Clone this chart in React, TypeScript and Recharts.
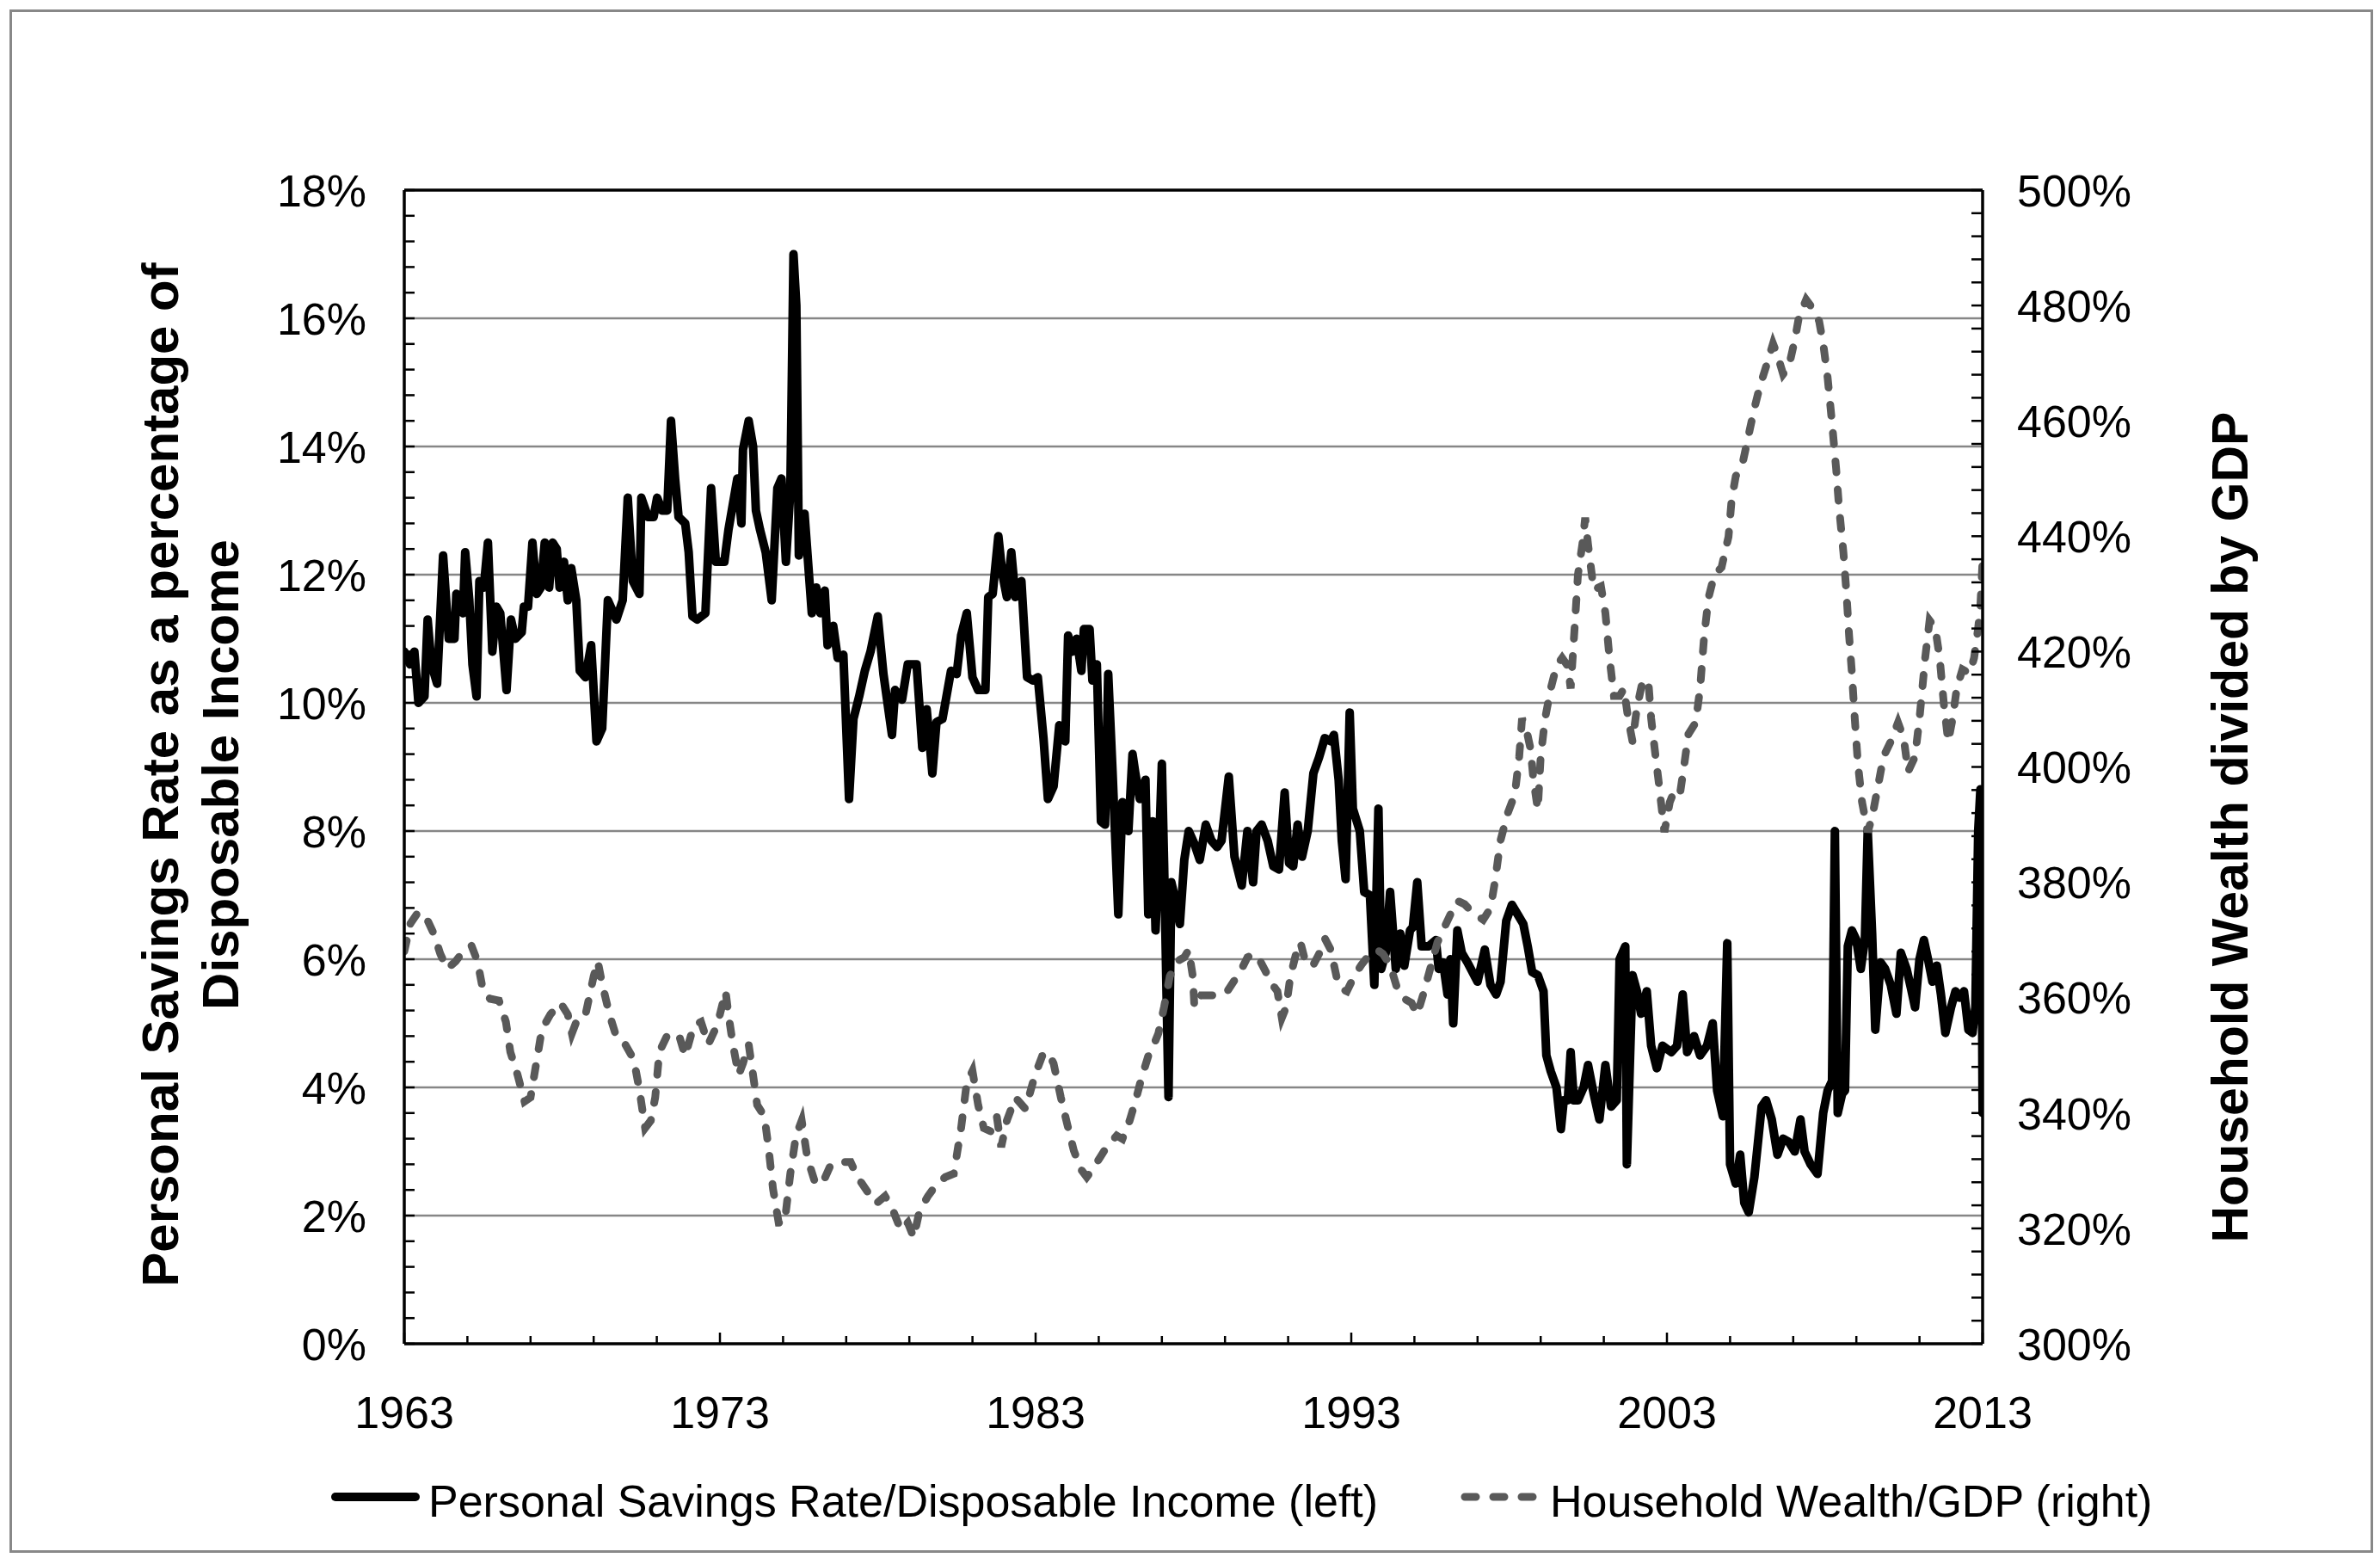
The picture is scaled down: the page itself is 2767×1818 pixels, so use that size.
import React from 'react';
import {
  LineChart,
  Line,
  XAxis,
  YAxis,
  CartesianGrid,
  ReferenceLine,
  Legend,
} from 'recharts';

// [year, personal savings rate as % of disposable income] (monthly)
const savingsRate: [number, number][] = [
  [1963.0, 10.8], [1963.18, 10.6], [1963.32, 10.8], [1963.45, 10.0], [1963.64, 10.1], [1963.74, 11.3],
  [1963.86, 10.6], [1964.04, 10.3], [1964.23, 12.3], [1964.41, 11.0], [1964.59, 11.0], [1964.65, 11.7],
  [1964.86, 11.4], [1964.93, 12.35], [1965.06, 11.6], [1965.16, 10.6], [1965.29, 10.1], [1965.38, 11.9],
  [1965.52, 11.8], [1965.65, 12.5], [1965.79, 10.8], [1965.92, 11.5], [1966.04, 11.4], [1966.24, 10.2],
  [1966.38, 11.3], [1966.52, 11.0], [1966.72, 11.1], [1966.79, 11.5], [1966.92, 11.5], [1967.06, 12.5],
  [1967.2, 11.7], [1967.33, 11.8], [1967.45, 12.5], [1967.59, 11.8], [1967.7, 12.5], [1967.83, 12.4],
  [1967.92, 11.8], [1968.06, 12.2], [1968.18, 11.6], [1968.29, 12.1], [1968.45, 11.6], [1968.56, 10.5],
  [1968.74, 10.4], [1968.92, 10.9], [1969.09, 9.4], [1969.27, 9.6], [1969.45, 11.6], [1969.72, 11.3],
  [1969.92, 11.6], [1970.08, 13.2], [1970.24, 11.9], [1970.45, 11.7], [1970.51, 13.2], [1970.72, 12.9],
  [1970.9, 12.9], [1971.01, 13.2], [1971.17, 13.0], [1971.33, 13.0], [1971.45, 14.4], [1971.58, 13.5],
  [1971.69, 12.9], [1971.9, 12.8], [1972.01, 12.35], [1972.13, 11.35], [1972.28, 11.3], [1972.54, 11.4],
  [1972.72, 13.35], [1972.87, 12.2], [1973.14, 12.2], [1973.27, 12.7], [1973.41, 13.1], [1973.55, 13.5],
  [1973.68, 12.8], [1973.73, 13.95], [1973.91, 14.4], [1974.05, 14.0], [1974.14, 13.0], [1974.27, 12.7],
  [1974.45, 12.35], [1974.64, 11.6], [1974.82, 13.35], [1974.95, 13.5], [1975.09, 12.2], [1975.23, 13.3],
  [1975.33, 17.0], [1975.42, 16.2], [1975.5, 12.3], [1975.68, 12.95], [1975.91, 11.4], [1976.05, 11.8],
  [1976.18, 11.4], [1976.32, 11.75], [1976.41, 10.9], [1976.59, 11.2], [1976.73, 10.7], [1976.91, 10.75],
  [1977.09, 8.5], [1977.23, 9.75], [1977.41, 10.1], [1977.59, 10.5], [1977.77, 10.8], [1978.0, 11.35],
  [1978.18, 10.45], [1978.45, 9.5], [1978.55, 10.2], [1978.77, 10.05], [1978.95, 10.6], [1979.23, 10.6],
  [1979.41, 9.3], [1979.55, 9.9], [1979.73, 8.9], [1979.86, 9.7], [1980.05, 9.75], [1980.32, 10.5],
  [1980.5, 10.45], [1980.64, 11.05], [1980.82, 11.4], [1981.0, 10.4], [1981.18, 10.2], [1981.41, 10.2],
  [1981.5, 11.65], [1981.64, 11.7], [1981.82, 12.6], [1981.95, 12.0], [1982.09, 11.65], [1982.23, 12.35],
  [1982.36, 11.65], [1982.55, 11.9], [1982.73, 10.4], [1982.91, 10.35], [1983.07, 10.4], [1983.25, 9.45],
  [1983.39, 8.5], [1983.57, 8.7], [1983.75, 9.65], [1983.94, 9.4], [1984.03, 11.05], [1984.16, 10.8],
  [1984.3, 11.0], [1984.45, 10.5], [1984.53, 11.15], [1984.71, 11.15], [1984.8, 10.35], [1984.94, 10.6],
  [1985.07, 8.15], [1985.2, 8.1], [1985.3, 10.45], [1985.44, 8.9], [1985.62, 6.7], [1985.75, 8.45],
  [1985.94, 8.0], [1986.07, 9.2], [1986.16, 8.9], [1986.3, 8.5], [1986.48, 8.8], [1986.57, 6.7],
  [1986.71, 8.15], [1986.8, 6.45], [1986.94, 8.15], [1987.0, 9.05], [1987.07, 7.5], [1987.21, 3.85],
  [1987.3, 7.2], [1987.44, 6.9], [1987.57, 6.55], [1987.71, 7.55], [1987.85, 8.0], [1988.03, 7.8],
  [1988.2, 7.55], [1988.39, 8.1], [1988.57, 7.85], [1988.75, 7.75], [1988.89, 7.85], [1989.12, 8.85],
  [1989.3, 7.6], [1989.53, 7.15], [1989.71, 8.0], [1989.89, 7.2], [1990.0, 8.0], [1990.16, 8.1],
  [1990.35, 7.85], [1990.53, 7.45], [1990.71, 7.4], [1990.89, 8.6], [1991.03, 7.5], [1991.16, 7.45],
  [1991.3, 8.1], [1991.44, 7.6], [1991.62, 8.0], [1991.8, 8.9], [1991.98, 9.15], [1992.16, 9.45],
  [1992.35, 9.4], [1992.45, 9.5], [1992.6, 8.8], [1992.7, 7.85], [1992.82, 7.25], [1992.95, 9.85],
  [1993.05, 8.35], [1993.27, 8.0], [1993.41, 7.05], [1993.59, 7.0], [1993.73, 5.6], [1993.86, 8.35],
  [1993.95, 5.85], [1994.09, 6.1], [1994.23, 7.05], [1994.41, 5.85], [1994.55, 6.4], [1994.68, 5.9],
  [1994.86, 6.45], [1994.95, 6.5], [1995.09, 7.2], [1995.23, 6.2], [1995.45, 6.2], [1995.68, 6.3],
  [1995.77, 5.85], [1995.91, 5.95], [1996.05, 5.45], [1996.14, 6.0], [1996.23, 5.0], [1996.36, 6.45],
  [1996.5, 6.1], [1996.68, 5.95], [1997.0, 5.65], [1997.23, 6.15], [1997.41, 5.6], [1997.59, 5.45],
  [1997.73, 5.65], [1997.91, 6.6], [1998.09, 6.85], [1998.27, 6.7], [1998.45, 6.55], [1998.59, 6.2],
  [1998.73, 5.8], [1998.91, 5.75], [1999.09, 5.5], [1999.18, 4.5], [1999.32, 4.25], [1999.5, 4.0],
  [1999.64, 3.35], [1999.73, 3.8], [1999.86, 3.8], [1999.95, 4.55], [2000.05, 3.8], [2000.18, 3.8],
  [2000.36, 4.0], [2000.5, 4.35], [2000.68, 3.9], [2000.86, 3.5], [2001.05, 4.35], [2001.23, 3.7],
  [2001.41, 3.8], [2001.5, 6.0], [2001.68, 6.2], [2001.73, 2.8], [2001.91, 5.75], [2002.05, 5.5],
  [2002.18, 5.15], [2002.36, 5.5], [2002.5, 4.65], [2002.68, 4.3], [2002.86, 4.65], [2003.14, 4.55],
  [2003.32, 4.65], [2003.5, 5.45], [2003.64, 4.55], [2003.86, 4.8], [2004.05, 4.5], [2004.27, 4.65],
  [2004.45, 5.0], [2004.59, 3.95], [2004.77, 3.55], [2004.91, 6.25], [2005.0, 2.8], [2005.18, 2.5],
  [2005.32, 2.95], [2005.45, 2.2], [2005.59, 2.05], [2005.77, 2.6], [2006.0, 3.7], [2006.14, 3.8],
  [2006.32, 3.5], [2006.5, 2.95], [2006.68, 3.2], [2006.86, 3.15], [2007.05, 3.0], [2007.23, 3.5],
  [2007.36, 3.0], [2007.55, 2.8], [2007.77, 2.65], [2007.95, 3.6], [2008.09, 3.95], [2008.23, 4.1],
  [2008.32, 8.0], [2008.41, 3.6], [2008.55, 3.9], [2008.64, 3.95], [2008.73, 6.2], [2008.86, 6.45],
  [2009.0, 6.3], [2009.14, 5.85], [2009.27, 6.3], [2009.36, 8.0], [2009.5, 6.4], [2009.6, 4.9],
  [2009.77, 5.95], [2009.91, 5.85], [2010.09, 5.6], [2010.27, 5.15], [2010.41, 6.1], [2010.59, 5.85],
  [2010.73, 5.55], [2010.86, 5.25], [2011.0, 6.0], [2011.14, 6.3], [2011.27, 6.0], [2011.41, 5.65],
  [2011.55, 5.9], [2011.68, 5.45], [2011.82, 4.85], [2012.0, 5.25], [2012.14, 5.5], [2012.27, 5.4],
  [2012.41, 5.5], [2012.55, 4.9], [2012.68, 4.85], [2012.77, 5.25], [2012.86, 8.0], [2012.93, 8.65],
  [2012.97, 6.7], [2013.0, 3.6],
];

// [year, household wealth as % of GDP] (quarterly)
const wealthToGdp: [number, number][] = [
  [1963.0, 368], [1963.2, 372.9], [1963.45, 374.9], [1963.73, 373.5], [1963.95, 370.9], [1964.14, 367.6],
  [1964.36, 365.0], [1964.63, 366.3], [1964.9, 368.3], [1965.13, 369.0], [1965.32, 366.3], [1965.5, 361.1],
  [1965.72, 359.8], [1966.0, 359.5], [1966.22, 355.8], [1966.36, 350.6], [1966.59, 346.6], [1966.81, 342.0],
  [1967.0, 342.7], [1967.18, 348.6], [1967.36, 354.5], [1967.63, 357.1], [1967.95, 359.1], [1968.18, 357.1],
  [1968.31, 353.8], [1968.45, 355.8], [1968.72, 356.5], [1969.0, 363.7], [1969.13, 366.3], [1969.27, 362.4],
  [1969.5, 357.1], [1969.72, 353.2], [1970.0, 351.9], [1970.27, 349.3], [1970.45, 344.0], [1970.63, 337.4],
  [1970.81, 338.7], [1970.95, 342.7], [1971.08, 350.6], [1971.36, 353.8], [1971.72, 353.2], [1971.9, 349.9],
  [1972.17, 355.2], [1972.4, 355.8], [1972.63, 351.9], [1972.85, 354.5], [1973.0, 357.1], [1973.18, 361.1],
  [1973.27, 357.1], [1973.41, 351.9], [1973.59, 346.6], [1973.73, 348.6], [1973.91, 351.9], [1974.05, 346.6],
  [1974.18, 341.4], [1974.41, 339.4], [1974.55, 333.5], [1974.68, 326.9], [1974.86, 321.0], [1975.05, 321.0],
  [1975.23, 329.5], [1975.41, 336.1], [1975.59, 338.7], [1975.77, 332.2], [1976.0, 328.2], [1976.23, 327.6],
  [1976.5, 330.9], [1976.73, 331.5], [1977.14, 331.5], [1977.36, 328.9], [1977.68, 326.3], [1977.95, 324.3],
  [1978.23, 325.6], [1978.45, 323.6], [1978.73, 319.7], [1978.95, 321.0], [1979.14, 318.4], [1979.32, 323.0],
  [1979.59, 325.6], [1979.86, 327.6], [1980.14, 328.9], [1980.41, 329.5], [1980.64, 337.4], [1980.82, 345.3],
  [1981.0, 347.3], [1981.18, 341.4], [1981.36, 337.4], [1981.59, 336.8], [1981.77, 339.4], [1981.91, 334.1],
  [1982.09, 338.7], [1982.36, 342.7], [1982.68, 340.7], [1982.98, 346.6], [1983.21, 349.9], [1983.39, 350.6],
  [1983.57, 348.6], [1983.8, 342.7], [1984.0, 338.1], [1984.21, 333.5], [1984.44, 330.2], [1984.62, 328.9],
  [1984.8, 330.2], [1985.03, 332.2], [1985.25, 334.1], [1985.57, 336.1], [1985.75, 335.5], [1985.98, 338.7],
  [1986.16, 342.0], [1986.35, 346.0], [1986.57, 349.9], [1986.75, 351.9], [1986.89, 353.8], [1987.07, 358.4],
  [1987.25, 363.7], [1987.48, 366.3], [1987.71, 367.0], [1987.85, 368.3], [1987.98, 363.7], [1988.03, 358.4],
  [1988.25, 360.4], [1988.53, 360.4], [1988.8, 360.4], [1989.07, 361.1], [1989.3, 363.0], [1989.53, 365.0],
  [1989.71, 367.0], [1989.94, 367.6], [1990.12, 366.3], [1990.3, 364.4], [1990.48, 362.4], [1990.66, 361.1],
  [1990.8, 356.5], [1990.94, 358.4], [1991.07, 363.7], [1991.25, 367.6], [1991.39, 369.6], [1991.57, 365.7],
  [1991.8, 365.7], [1991.98, 367.6], [1992.16, 370.3], [1992.35, 368.3], [1992.53, 363.7], [1992.71, 361.5],
  [1992.86, 361.1], [1993.09, 363.7], [1993.32, 365.7], [1993.59, 367.6], [1993.82, 368.3], [1994.0, 367.6],
  [1994.23, 365.7], [1994.45, 361.7], [1994.68, 359.8], [1994.91, 359.1], [1995.09, 357.1], [1995.27, 360.4],
  [1995.5, 365.0], [1995.73, 369.6], [1995.95, 372.2], [1996.18, 374.9], [1996.36, 376.8], [1996.59, 376.2],
  [1996.82, 374.9], [1997.0, 374.2], [1997.18, 373.5], [1997.41, 375.5], [1997.55, 380.1], [1997.73, 387.3],
  [1997.95, 391.9], [1998.18, 395.2], [1998.32, 401.8], [1998.41, 408.4], [1998.55, 406.4], [1998.68, 403.1],
  [1998.77, 397.8], [1998.91, 392.6], [1999.0, 401.8], [1999.14, 408.4], [1999.32, 413.6], [1999.5, 417.5],
  [1999.68, 418.9], [1999.86, 417.5], [1999.95, 413.6], [2000.09, 425.4], [2000.18, 433.3], [2000.32, 438.6],
  [2000.41, 443.2], [2000.5, 438.6], [2000.68, 430.7], [2000.91, 431.3], [2001.05, 426.7], [2001.18, 418.9],
  [2001.32, 412.3], [2001.5, 412.3], [2001.64, 413.6], [2001.77, 408.4], [2001.91, 404.4], [2002.05, 410.3],
  [2002.23, 414.9], [2002.41, 414.9], [2002.5, 408.4], [2002.64, 401.8], [2002.73, 397.8], [2002.92, 388.7],
  [2003.09, 393.9], [2003.23, 395.8], [2003.41, 395.2], [2003.55, 400.5], [2003.68, 405.7], [2003.91, 407.7],
  [2004.05, 413.6], [2004.18, 422.8], [2004.32, 429.4], [2004.5, 433.3], [2004.73, 434.6], [2004.95, 439.9],
  [2005.05, 446.4], [2005.18, 450.4], [2005.41, 453.0], [2005.59, 457.6], [2005.77, 462.2], [2005.95, 466.1],
  [2006.14, 469.4], [2006.36, 473.4], [2006.5, 471.4], [2006.68, 468.1], [2006.86, 469.4], [2007.05, 474.0],
  [2007.18, 478.0], [2007.41, 481.0], [2007.64, 479.3], [2007.82, 477.3], [2007.95, 473.4], [2008.09, 467.5],
  [2008.23, 459.6], [2008.36, 451.7], [2008.45, 445.1], [2008.59, 437.2], [2008.68, 430.7], [2008.77, 422.8],
  [2008.86, 416.2], [2008.95, 408.4], [2009.05, 400.5], [2009.18, 393.9], [2009.36, 388.7], [2009.5, 391.3],
  [2009.68, 396.5], [2009.86, 401.8], [2010.09, 404.4], [2010.32, 407.7], [2010.5, 405.0], [2010.64, 399.2],
  [2010.86, 401.8], [2011.0, 408.4], [2011.09, 413.6], [2011.18, 418.9], [2011.32, 425.4], [2011.5, 424.1],
  [2011.64, 418.9], [2011.77, 411.0], [2011.91, 404.4], [2012.05, 408.4], [2012.18, 413.6], [2012.36, 416.9],
  [2012.59, 416.2], [2012.73, 418.9], [2012.86, 424.1], [2012.93, 428.0], [2013.0, 436.0],
];

const yearTicks = [
  1963, 1965, 1967, 1969, 1971, 1973, 1975, 1977, 1979, 1981, 1983, 1985, 1987,
  1989, 1991, 1993, 1995, 1997, 1999, 2001, 2003, 2005, 2007, 2009, 2011, 2013,
];
const yearLabels = [1963, 1973, 1983, 1993, 2003, 2013];
const gridValues = [2, 4, 6, 8, 10, 12, 14, 16];
// minor tick marks: 0.4 pt steps on the left, 4 pt steps on the right
const leftTicks = Array.from({ length: 46 }, (_, i) => Math.round(i * 4) / 10);
const rightTicks = Array.from({ length: 51 }, (_, i) => 300 + i * 4);

const FONT = '"Liberation Sans", Arial, Helvetica, sans-serif';
const W = 2751;
const H = 1800;
const DASH = '13 20';
const WEALTH_GREY = '#595959';

const savingsData = savingsRate.map(([year, v]) => ({ year, v }));
const wealthData = wealthToGdp.map(([year, v]) => ({ year, v }));

const isStep = (v: number, step: number) => Math.abs(v / step - Math.round(v / step)) < 1e-6;

function LeftTick(props: any) {
  const { x, y, payload } = props;
  const v = payload.value;
  return (
    <g>
      <line x1={x} x2={x + 12} y1={y} y2={y} stroke="#000" strokeWidth={2.5} />
      {isStep(v, 2) && (
        <text x={x - 44} y={y} dy="0.36em" textAnchor="end" fontSize={52} fontFamily={FONT} fill="#000">
          {`${Math.round(v)}%`}
        </text>
      )}
    </g>
  );
}

function RightTick(props: any) {
  const { x, y, payload } = props;
  const v = payload.value;
  return (
    <g>
      <line x1={x - 13} x2={x} y1={y} y2={y} stroke="#000" strokeWidth={2.5} />
      {isStep(v - 300, 20) && (
        <text x={x + 40} y={y} dy="0.36em" textAnchor="start" fontSize={52} fontFamily={FONT} fill="#000">
          {`${Math.round(v)}%`}
        </text>
      )}
    </g>
  );
}

function BottomTick(props: any) {
  const { x, y, payload } = props;
  const major = yearLabels.includes(payload.value);
  return (
    <g>
      <line x1={x} x2={x} y1={y} y2={y - (major ? 13 : 9)} stroke="#000" strokeWidth={2.5} />
      {major && (
        <text x={x} y={y + 98} textAnchor="middle" fontSize={52} fontFamily={FONT} fill="#000">
          {payload.value}
        </text>
      )}
    </g>
  );
}

function LeftTitle(props: any) {
  const vb = props.viewBox || { y: 213, height: 1341 };
  const cy = vb.y + vb.height / 2 + 9;
  const x = 199;
  return (
    <text
      transform={`rotate(-90 ${x} ${cy})`}
      x={x}
      y={cy}
      textAnchor="middle"
      fontSize={60}
      fontWeight="bold"
      fontFamily={FONT}
      fill="#000"
    >
      <tspan x={x} dy={0}>Personal Savings Rate as a percentage of</tspan>
      <tspan x={x} dy={70}>Disposable Income</tspan>
    </text>
  );
}

function RightTitle(props: any) {
  const vb = props.viewBox || { y: 213, height: 1341 };
  const cy = vb.y + vb.height / 2 + 70;
  const x = 2605;
  return (
    <text
      transform={`rotate(-90 ${x} ${cy})`}
      x={x}
      y={cy}
      textAnchor="middle"
      fontSize={59}
      fontWeight="bold"
      fontFamily={FONT}
      fill="#000"
    >
      Household Wealth divided by GDP
    </text>
  );
}

function LegendBox() {
  const cy = 33;
  return (
    <svg width={W} height={80} style={{ display: 'block' }}>
      <line x1={382} x2={475} y1={cy} y2={cy} stroke="#000" strokeWidth={10} strokeLinecap="round" />
      <text x={490} y={56} fontSize={52} fontFamily={FONT} fill="#000">
        Personal Savings Rate/Disposable Income (left)
      </text>
      <line
        x1={1695}
        x2={1782}
        y1={cy}
        y2={cy}
        stroke={WEALTH_GREY}
        strokeWidth={9}
        strokeLinecap="round"
        strokeDasharray={DASH}
      />
      <text x={1794} y={56} fontSize={52} fontFamily={FONT} fill="#000">
        Household Wealth/GDP (right)
      </text>
    </svg>
  );
}

const gridLines = ({ yAxis, offset }: any) =>
  gridValues.map(v =>
    yAxis && typeof yAxis.scale === 'function'
      ? yAxis.scale(v)
      : offset.top + offset.height * (1 - v / 18),
  );

export default function App() {
  return (
    <div style={{ position: 'relative', width: W, height: H }}>
      <div
        style={{
          position: 'absolute',
          left: 3,
          top: 3,
          width: 2748,
          height: 1794,
          border: '3px solid #888',
          boxSizing: 'border-box',
        }}
      />
      <div style={{ position: 'absolute', left: 0, top: 0 }}>
        <LineChart width={W} height={H} margin={{ top: 213, right: 304, bottom: 146, left: 312 }}>
          <CartesianGrid
            yAxisId="left"
            vertical={false}
            stroke="#868686"
            strokeWidth={2.5}
            horizontalCoordinatesGenerator={gridLines}
          />
          <XAxis
            dataKey="year"
            type="number"
            domain={[1963, 2013]}
            ticks={yearTicks}
            interval={0}
            allowDataOverflow
            height={100}
            tickLine={false}
            tickSize={0}
            tickMargin={0}
            tick={(p: any) => <BottomTick {...p} />}
            axisLine={{ stroke: '#000', strokeWidth: 3.5 }}
          />
          <YAxis
            yAxisId="left"
            orientation="left"
            domain={[0, 18]}
            ticks={leftTicks}
            interval={0}
            width={150}
            tickLine={false}
            tickSize={0}
            tickMargin={0}
            tick={(p: any) => <LeftTick {...p} />}
            axisLine={{ stroke: '#000', strokeWidth: 3.5 }}
            label={{ content: (p: any) => <LeftTitle {...p} /> }}
          />
          <YAxis
            yAxisId="right"
            orientation="right"
            domain={[300, 500]}
            ticks={rightTicks}
            interval={0}
            width={150}
            tickLine={false}
            tickSize={0}
            tickMargin={0}
            tick={(p: any) => <RightTick {...p} />}
            axisLine={{ stroke: '#000', strokeWidth: 3.5 }}
            label={{ content: (p: any) => <RightTitle {...p} /> }}
          />
          <ReferenceLine yAxisId="left" y={18} stroke="#000" strokeWidth={3.5} />
          <Line
            yAxisId="left"
            data={savingsData}
            dataKey="v"
            type="linear"
            stroke="#000"
            strokeWidth={10}
            strokeLinejoin="round"
            strokeLinecap="round"
            dot={false}
            activeDot={false}
            isAnimationActive={false}
          />
          <Line
            yAxisId="right"
            data={wealthData}
            dataKey="v"
            type="linear"
            stroke={WEALTH_GREY}
            strokeWidth={9}
            strokeLinecap="round"
            strokeDasharray={DASH}
            dot={false}
            activeDot={false}
            isAnimationActive={false}
          />
          <Legend
            layout="horizontal"
            verticalAlign="middle"
            align="center"
            wrapperStyle={{ top: 1699, left: 0, width: W, height: 80 }}
            content={() => <LegendBox />}
          />
        </LineChart>
      </div>
    </div>
  );
}
